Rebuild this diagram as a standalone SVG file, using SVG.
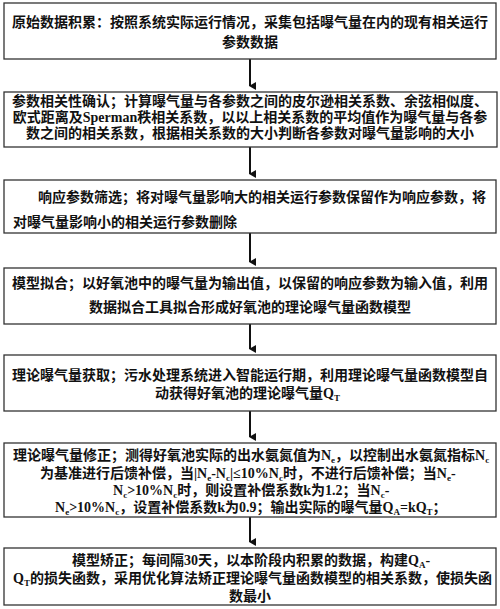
<svg xmlns="http://www.w3.org/2000/svg" width="500" height="609" viewBox="0 0 500 609">
<style>
.box{fill:#fff;stroke:#333;stroke-width:1.3}
text{font-family:"Liberation Serif","Noto Sans CJK SC",serif;font-size:14px;font-weight:bold;fill:#111}
.c{text-anchor:middle}
.s{font-size:9px}
.conn line{stroke:#111;stroke-width:2}
</style>
<defs>
<marker id="ah" markerWidth="8" markerHeight="7" refX="4" refY="6" orient="auto-start-reverse" markerUnits="userSpaceOnUse" viewBox="0 0 8 7">
<path d="M0,0 L8,0 L4,7 Z" fill="#111"/>
</marker>
</defs>
<rect width="500" height="609" fill="#fff"/>
<g class="conn">
<line x1="250" y1="59" x2="250" y2="86" marker-end="url(#ah)"/>
<line x1="250" y1="147" x2="250" y2="174" marker-end="url(#ah)"/>
<line x1="250" y1="233" x2="250" y2="262" marker-end="url(#ah)"/>
<line x1="250" y1="324" x2="250" y2="349" marker-end="url(#ah)"/>
<line x1="250" y1="411" x2="250" y2="437" marker-end="url(#ah)"/>
<line x1="250" y1="517" x2="250" y2="542" marker-end="url(#ah)"/>
</g>
<g id="n1">
<rect class="box" x="4" y="3" width="492" height="56"/>
<text class="c" x="250" y="27">原始数据积累：按照系统实际运行情况，采集包括曝气量在内的现有相关运行</text>
<text class="c" x="250" y="47">参数数据</text>
</g>
<g id="n2">
<rect class="box" x="4" y="92" width="493" height="55"/>
<text class="c" x="250" y="106">参数相关性确认；计算曝气量与各参数之间的皮尔逊相关系数、余弦相似度、</text>
<text class="c" x="250" y="122">欧式距离及Sperman秩相关系数，以以上相关系数的平均值作为曝气量与各参</text>
<text class="c" x="250" y="138">数之间的相关系数，根据相关系数的大小判断各参数对曝气量影响的大小</text>
</g>
<g id="n3">
<rect class="box" x="4" y="180" width="492" height="53"/>
<text x="38" y="202">响应参数筛选；将对曝气量影响大的相关运行参数保留作为响应参数，将</text>
<text x="13" y="227">对曝气量影响小的相关运行参数删除</text>
</g>
<g id="n4">
<rect class="box" x="4" y="268" width="492" height="56"/>
<text class="c" x="250" y="288">模型拟合；以好氧池中的曝气量为输出值，以保留的响应参数为输入值，利用</text>
<text class="c" x="250" y="312">数据拟合工具拟合形成好氧池的理论曝气量函数模型</text>
</g>
<g id="n5">
<rect class="box" x="4" y="355" width="492" height="56"/>
<text class="c" x="250" y="380">理论曝气量获取；污水处理系统进入智能运行期，利用理论曝气量函数模型自</text>
<text x="155" y="398">动获得好氧池的理论曝气量Q<tspan class="s" dy="3">T</tspan></text>
</g>
<g id="n6">
<rect class="box" x="4" y="443" width="492" height="74"/>
<text x="13" y="460">理论曝气量修正；测得好氧池实际的出水氨氮值为N<tspan class="s" dy="3">e</tspan><tspan dy="-3">，以控制出水氨氮指标N</tspan><tspan class="s" dy="3">c</tspan></text>
<text x="40" y="478">为基准进行后馈补偿，当|N<tspan class="s" dy="3">e</tspan><tspan dy="-3">-N</tspan><tspan class="s" dy="3">c</tspan><tspan dy="-3">|≤10%N</tspan><tspan class="s" dy="3">c</tspan><tspan dy="-3">时，不进行后馈补偿；当N</tspan><tspan class="s" dy="3">e</tspan><tspan dy="-3">-</tspan></text>
<text x="113" y="495">N<tspan class="s" dy="3">c</tspan><tspan dy="-3">&gt;10%N</tspan><tspan class="s" dy="3">c</tspan><tspan dy="-3">时，则设置补偿系数k为1.2；当N</tspan><tspan class="s" dy="3">c</tspan><tspan dy="-3">-</tspan></text>
<text x="55" y="512">N<tspan class="s" dy="3">e</tspan><tspan dy="-3">&gt;10%N</tspan><tspan class="s" dy="3">c</tspan><tspan dy="-3">，设置补偿系数k为0.9；输出实际的曝气量Q</tspan><tspan class="s" dy="3">A</tspan><tspan dy="-3">=kQ</tspan><tspan class="s" dy="3">T</tspan><tspan dy="-3">；</tspan></text>
</g>
<g id="n7">
<rect class="box" x="4" y="548" width="492" height="57"/>
<text x="72" y="565">模型矫正；每间隔30天，以本阶段内积累的数据，构建Q<tspan class="s" dy="3">A</tspan><tspan dy="-3">-</tspan></text>
<text x="13" y="583">Q<tspan class="s" dy="3">T</tspan><tspan dy="-3">的损失函数，采用优化算法矫正理论曝气量函数模型的相关系数，使损失函</tspan></text>
<text class="c" x="250" y="601">数最小</text>
</g>
</svg>
